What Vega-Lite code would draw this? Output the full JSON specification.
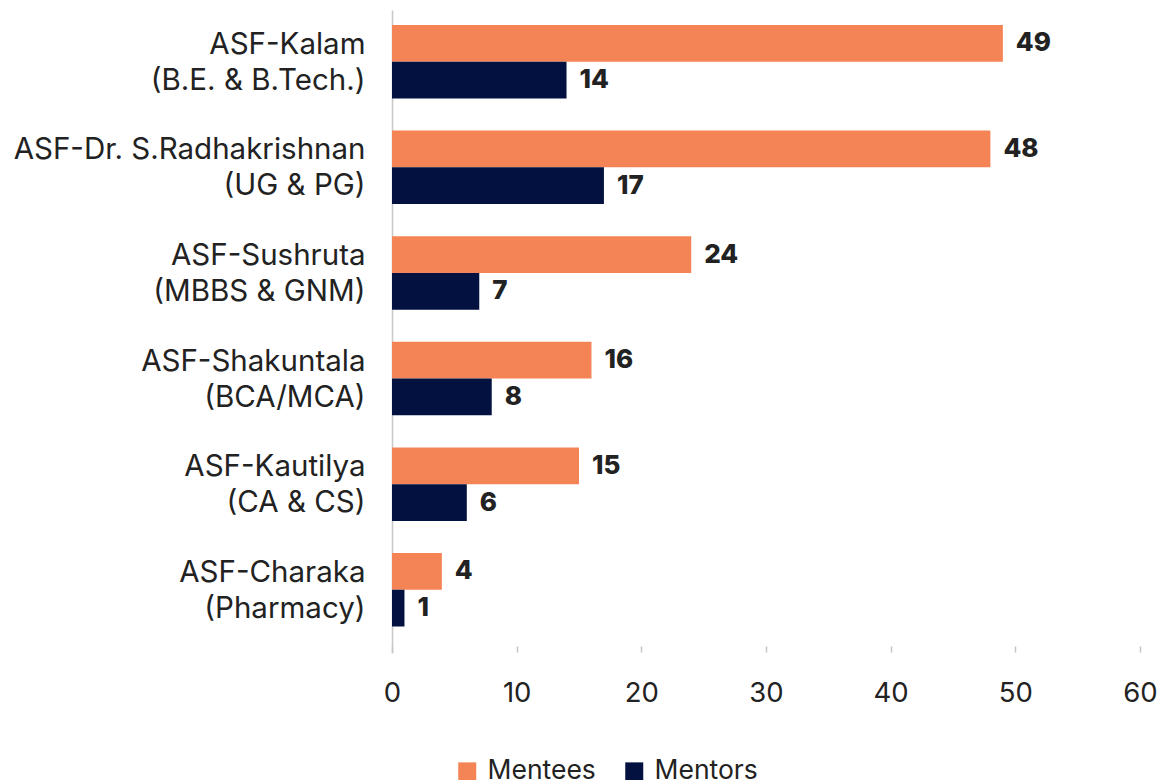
{
  "$schema": "https://vega.github.io/schema/vega-lite/v6.json",
  "width": 748,
  "height": 643,
  "autosize": {"type": "none"},
  "padding": {"left": 392, "top": 10, "right": 26, "bottom": 127},
  "background": "white",
  "config": {"view": {"stroke": null}, "font": "Inter"},
  "data": {
    "values": [
      {"program": "ASF-Kalam|(B.E. & B.Tech.)", "series": "Mentees", "count": 49},
      {"program": "ASF-Kalam|(B.E. & B.Tech.)", "series": "Mentors", "count": 14},
      {"program": "ASF-Dr. S.Radhakrishnan|(UG & PG)", "series": "Mentees", "count": 48},
      {"program": "ASF-Dr. S.Radhakrishnan|(UG & PG)", "series": "Mentors", "count": 17},
      {"program": "ASF-Sushruta|(MBBS & GNM)", "series": "Mentees", "count": 24},
      {"program": "ASF-Sushruta|(MBBS & GNM)", "series": "Mentors", "count": 7},
      {"program": "ASF-Shakuntala|(BCA/MCA)", "series": "Mentees", "count": 16},
      {"program": "ASF-Shakuntala|(BCA/MCA)", "series": "Mentors", "count": 8},
      {"program": "ASF-Kautilya|(CA & CS)", "series": "Mentees", "count": 15},
      {"program": "ASF-Kautilya|(CA & CS)", "series": "Mentors", "count": 6},
      {"program": "ASF-Charaka|(Pharmacy)", "series": "Mentees", "count": 4},
      {"program": "ASF-Charaka|(Pharmacy)", "series": "Mentors", "count": 1}
    ]
  },
  "encoding": {
    "y": {
      "field": "program",
      "type": "nominal",
      "sort": null,
      "title": null,
      "scale": {"paddingInner": 0.304, "paddingOuter": 0.196, "align": 0.36},
      "axis": {
        "labelExpr": "split(datum.label, '|')",
        "labelFont": "Inter",
        "labelFontSize": 29.5,
        "labelColor": "#222222",
        "labelLineHeight": 36,
        "labelPadding": 27,
        "labelOffset": -17,
        "labelLimit": 0,
        "ticks": false,
        "domainColor": "#c8c8c8",
        "domainWidth": 1.5
      }
    },
    "yOffset": {
      "field": "series",
      "type": "nominal",
      "sort": ["Mentees", "Mentors"],
      "scale": {"paddingInner": 0, "paddingOuter": 0}
    },
    "x": {
      "field": "count",
      "type": "quantitative",
      "title": null,
      "scale": {"domain": [0, 60], "nice": false},
      "axis": {
        "values": [0, 10, 20, 30, 40, 50, 60],
        "domain": false,
        "grid": false,
        "offset": -7,
        "tickSize": 6,
        "tickColor": "#c4c4c4",
        "tickWidth": 1.5,
        "labelFlush": false,
        "labelFont": "Inter",
        "labelFontSize": 27.5,
        "labelColor": "#222222",
        "labelPadding": 27
      }
    }
  },
  "layer": [
    {
      "mark": {"type": "bar"},
      "encoding": {
        "color": {
          "field": "series",
          "type": "nominal",
          "sort": ["Mentees", "Mentors"],
          "scale": {"domain": ["Mentees", "Mentors"], "range": ["#F48456", "#02113F"]},
          "legend": {
            "title": null,
            "orient": "none",
            "direction": "horizontal",
            "legendX": 62,
            "legendY": 748,
            "padding": 0,
            "symbolType": "square",
            "symbolSize": 324,
            "symbolStrokeWidth": 0,
            "symbolOpacity": 1,
            "labelFont": "Inter",
            "labelFontSize": 26.5,
            "labelColor": "#222222",
            "labelOffset": 7,
            "columnPadding": 25
          }
        }
      }
    },
    {
      "mark": {"type": "text", "align": "left", "baseline": "middle", "dx": 13, "font": "Inter", "fontSize": 26, "fontWeight": 800, "color": "#222222"},
      "encoding": {
        "text": {"field": "count", "type": "quantitative"}
      }
    }
  ]
}
